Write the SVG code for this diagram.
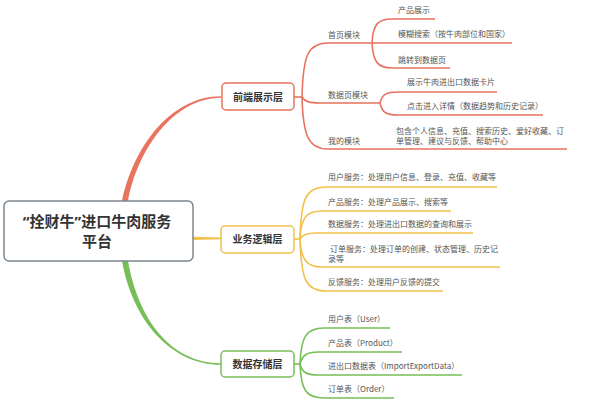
<svg xmlns="http://www.w3.org/2000/svg" width="600" height="409" viewBox="0 0 600 409">
<style>
text{font-family:"Noto Sans CJK SC","Noto Sans",sans-serif}
.leaf{font-size:8px;fill:#555}
.box{font-size:10px;font-weight:bold;fill:#333;text-anchor:middle}
.root{font-size:15px;font-weight:bold;fill:#333;text-anchor:middle}
.q{font-family:"Noto Sans",sans-serif}
.r{stroke:#E8735E;fill:none;stroke-width:1.6}
.y{stroke:#F2C14A;fill:none;stroke-width:1.6}
.g{stroke:#78BE58;fill:none;stroke-width:1.6}
</style>
<rect width="600" height="409" fill="#fff"/>
<g id="connectors">
<path d="M122,201 C133,148 170,96.2 221,96.2 L221,97.8 C172,98 137,152 128,201 Z" fill="#E8735E"/>
<path d="M193,236.8 L221,237.6 L221,239.2 L193,240 Z" fill="#F2C14A"/>
<path d="M122,261 C133,322 172,364.8 221,364.8 L221,363.2 C170,363.2 138,318 128,261 Z" fill="#78BE58"/>
<g class="r">
<path d="M294,97 L302,97"/>
<path d="M302,97 C303,55 308,43 328,43 L372,43"/>
<path d="M302,97 C305,102 310,103 320,103 L380,103"/>
<path d="M302,97 C303,135 308,149 328,149 L567,149"/>
<path d="M372,43 C373,24 378,19 392,19 L435,19"/>
<path d="M372,43 L512,43"/>
<path d="M372,43 C373,62 378,68 392,68 L450,68"/>
<path d="M380,103 C382,94 387,92 398,92 L497,92"/>
<path d="M380,103 C382,113 387,115 398,115 L543,115"/>
</g>
<g class="y">
<path d="M294,239 L300,239"/>
<path d="M300,239 C301,198 306,187 326,187 L497,187"/>
<path d="M300,239 C301,218 306,211 322,211 L451,211"/>
<path d="M300,239 C302,235 306,233 316,233 L473,233"/>
<path d="M300,239 C301,259 306,267 322,267 L500,267"/>
<path d="M300,239 C301,280 306,291 326,291 L443,291"/>
</g>
<g class="g">
<path d="M294,364 L300,364"/>
<path d="M300,364 C301,337 306,328 324,328 L390,328"/>
<path d="M300,364 C302,356 306,352 318,352 L402,352"/>
<path d="M300,364 C302,372 306,375 318,375 L462,375"/>
<path d="M300,364 C301,390 306,398 324,398 L394,398"/>
</g>
</g>
<g id="root">
<rect x="4" y="201" width="189" height="60" rx="5" fill="#fff" stroke="#7D8790" stroke-width="1.5"/>
<text class="root" x="97" y="227"><tspan class="q">“</tspan>拴财牛<tspan class="q">”</tspan>进口牛肉服务</text>
<text class="root" x="97" y="247">平台</text>
</g>
<g id="frontend">
<rect x="222" y="83" width="72" height="27" rx="4" fill="#fff" stroke="#E8735E" stroke-width="1.5"/>
<text class="box" x="258" y="100.5">前端展示层</text>
</g>
<g id="logic">
<rect x="221" y="226" width="73" height="27" rx="4" fill="#fff" stroke="#F2C14A" stroke-width="1.5"/>
<text class="box" x="257.5" y="243">业务逻辑层</text>
</g>
<g id="storage">
<rect x="221" y="351" width="73" height="26" rx="4" fill="#fff" stroke="#78BE58" stroke-width="1.5"/>
<text class="box" x="257.5" y="367.5">数据存储层</text>
</g>
<g id="home"><text class="leaf" x="328" y="38">首页模块</text></g>
<g id="home-product"><text class="leaf" x="398" y="13">产品展示</text></g>
<g id="home-search"><text class="leaf" x="398" y="37">模糊搜索（按牛肉部位和国家）</text></g>
<g id="home-jump"><text class="leaf" x="398" y="63">跳转到数据页</text></g>
<g id="datapage"><text class="leaf" x="328" y="98">数据页模块</text></g>
<g id="datapage-card"><text class="leaf" x="407" y="85">展示牛肉进出口数据卡片</text></g>
<g id="datapage-detail"><text class="leaf" x="407" y="109">点击进入详情（数据趋势和历史记录）</text></g>
<g id="mine"><text class="leaf" x="328" y="144">我的模块</text></g>
<g id="mine-detail"><text class="leaf" x="396" y="134">包含个人信息、充值、搜索历史、爱好收藏、订</text><text class="leaf" x="396" y="144">单管理、建议与反馈、帮助中心</text></g>
<g id="svc-user"><text class="leaf" x="328" y="180">用户服务：处理用户信息、登录、充值、收藏等</text></g>
<g id="svc-product"><text class="leaf" x="328" y="205">产品服务：处理产品展示、搜索等</text></g>
<g id="svc-data"><text class="leaf" x="328" y="227">数据服务：处理进出口数据的查询和展示</text></g>
<g id="svc-order"><text class="leaf" x="330" y="252">订单服务：处理订单的创建、状态管理、历史记</text><text class="leaf" x="328" y="261.5">录等</text></g>
<g id="svc-feedback"><text class="leaf" x="328" y="285">反馈服务：处理用户反馈的提交</text></g>
<g id="tbl-user"><text class="leaf" x="328" y="322">用户表（User）</text></g>
<g id="tbl-product"><text class="leaf" x="328" y="346">产品表（Product）</text></g>
<g id="tbl-data"><text class="leaf" x="328" y="369">进出口数据表（ImportExportData）</text></g>
<g id="tbl-order"><text class="leaf" x="328" y="392">订单表（Order）</text></g>
</svg>
